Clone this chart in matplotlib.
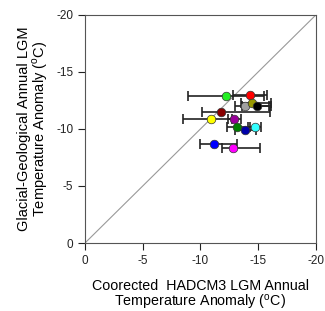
import matplotlib
matplotlib.use("Agg")
import matplotlib.pyplot as plt
import numpy as np

plt.rcParams['font.family'] = ['Liberation Sans', 'DejaVu Sans']
plt.rcParams['mathtext.fontset'] = 'custom'
plt.rcParams['mathtext.rm'] = 'Liberation Sans'

# HadCM3 corrected anomaly (x) and glacial-geological anomaly (y)
model_x = [-12.2, -14.3, -13.9, -14.5, -14.9, -11.8, -10.9, -12.9, -13.2, -13.9, -14.7, -11.2, -12.8]
geo_y = [-12.9, -13.0, -12.0, -12.3, -12.0, -11.5, -10.9, -10.9, -10.2, -9.9, -10.2, -8.7, -8.3]
err_to_zero = [3.3, 1.5, 0.9, 1.0, 1.3, 1.65, 2.4, 0.5, 0.9, 0.9, 0.6, 1.25, 0.9]
err_to_neg = [3.3, 1.5, 2.0, 1.6, 1.2, 4.2, 1.8, 0.6, 1.1, 0.9, 0.55, 2.0, 2.4]
colors = ['#22ee22', '#ff0000', '#a0a0a0', '#999900', '#000000', '#880000',
          '#ffff00', '#990099', '#008000', '#0000aa', '#33ffff', '#0000ff', '#ff00ff']

ticks = [0, -5, -10, -15, -20]

fig = plt.figure(figsize=(3.25, 3.11), dpi=100)
ax = fig.add_axes([0.2615, 0.2186, 0.7105, 0.7334])

ax.plot([0, -20], [0, -20], color='#999999', lw=0.8, zorder=1)

for x, y, lo, hi, c in zip(model_x, geo_y, err_to_zero, err_to_neg, colors):
    ax.errorbar([x], [y], xerr=[[hi], [lo]], fmt='none', ecolor='#222222',
                elinewidth=1.2, capsize=3.6, capthick=1.2, zorder=2)
for x, y, c in zip(model_x, geo_y, colors):
    ax.plot([x], [y], 'o', ms=6.2, mfc=c, mec='#333333', mew=0.5, zorder=3)

ax.set_xlim(0, -20)
ax.set_ylim(0, -20)
ax.set_xticks(ticks)
ax.set_yticks(ticks)
ax.set_xticklabels([str(t) for t in ticks])
ax.set_yticklabels([str(t) for t in ticks])
ax.tick_params(direction='out', length=5, width=0.8, labelsize=8.5, colors='#222222',
               pad=3.5, top=False, right=False)
for s in ax.spines.values():
    s.set_color('#555555')
    s.set_linewidth(0.8)

ax.set_xlabel('Coorected  HADCM3 LGM Annual\nTemperature Anomaly ($^{\\rm o}$C)',
              fontsize=10.3, linespacing=1.0, labelpad=9)
ax.set_ylabel('Glacial-Geological Annual LGM\nTemperature Anomaly ($^{\\rm o}$C)',
              fontsize=10.5, linespacing=1.0)
ax.yaxis.set_label_coords(-0.15, 0.5)

fig.savefig('out.png', dpi=100)
